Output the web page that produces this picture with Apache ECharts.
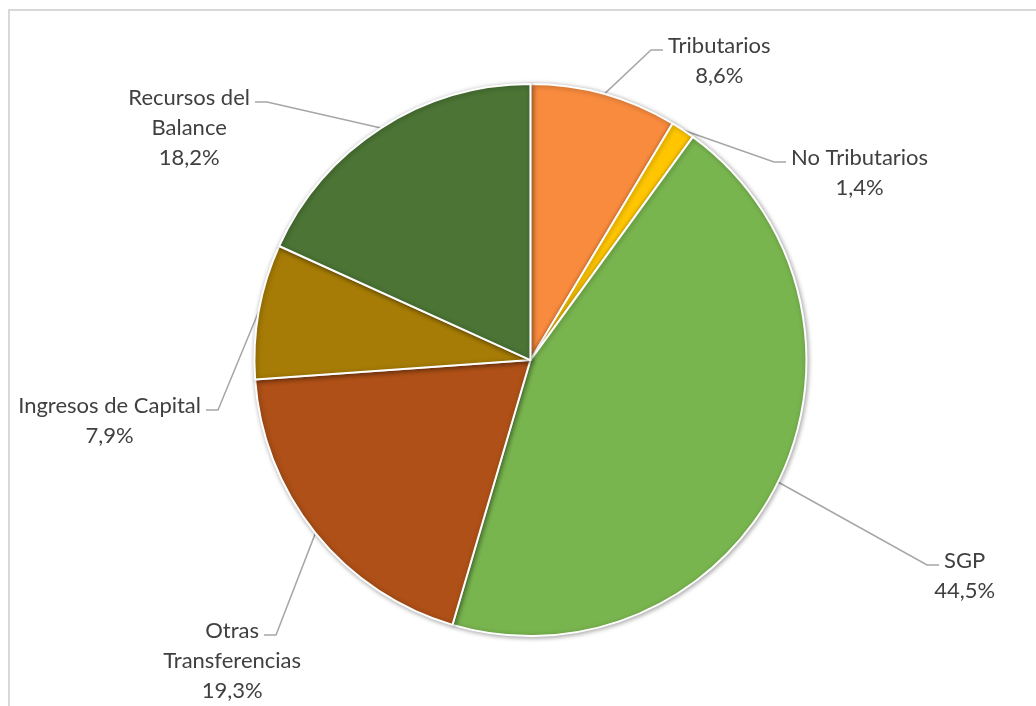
<!DOCTYPE html>
<html>
<head>
<meta charset="utf-8">
<script src="https://cdn.jsdelivr.net/npm/echarts@6/dist/echarts.min.js"></script>
<style>
html, body { margin: 0; padding: 0; background: #fff; }
#frame { position: absolute; left: 8px; top: 9px; width: 1100px; height: 800px; border: 2px solid #d9d9d9; box-sizing: border-box; }
#main { position: absolute; left: 0; top: 0; width: 1036px; height: 706px; }
</style>
</head>
<body>
<div id="frame"></div>
<div id="main"></div>
<script>
var categories = ['Tributarios', 'No Tributarios', 'SGP', 'Otras Transferencias', 'Ingresos de Capital', 'Recursos del Balance'];
var labelNames = ['Tributarios', 'No Tributarios', 'SGP', 'Otras\nTransferencias', 'Ingresos de Capital', 'Recursos del\nBalance'];
var values = [8.6, 1.4, 44.5, 19.3, 7.9, 18.2];
var colors = ['#f88b3e', '#ffc600', '#79b54f', '#ae5017', '#a67c06', '#4b7435'];

// label spots: near edge of the first text line, its middle y, side
var labelSpots = [
	[668, 46, 'left'],
	[791, 158, 'left'],
	[944, 561, 'left'],
	[259, 631, 'right'],
	[201, 406, 'right'],
	[250, 98, 'right']
];

var FONT = 'Lato';
var FONT_SIZE = 22;
var LINE_H = 30;

var ctx = document.createElement('canvas').getContext('2d');
ctx.font = FONT_SIZE + 'px ' + FONT;
function textWidth(t) {
	return ctx.measureText(t).width;
}

var pieData = [];
for (var i = 0; i < categories.length; i++) {
	pieData.push({ name: categories[i], value: values[i], itemStyle: { color: colors[i] } });
}

var myChart = echarts.init(document.getElementById('main'));
option = {
	animation : false,
	series : [ {
		type : 'pie',
		center : [ '51.2%', '51%' ],
		radius : 276,
		startAngle : 90,
		clockwise : true,
		avoidLabelOverlap : false,
		itemStyle : {
			borderColor : '#ffffff',
			borderWidth : 2,
			shadowBlur : 5,
			shadowColor : 'rgba(0,0,0,0.35)',
			shadowOffsetX : 1,
			shadowOffsetY : 1
		},
		label : {
			show : true,
			position : 'outside',
			fontFamily : FONT,
			fontSize : FONT_SIZE,
			lineHeight : LINE_H,
			color : '#404040',
			formatter : function(p) {
				return labelNames[p.dataIndex] + '\n' + p.value.toFixed(1).replace('.', ',') + '%';
			}
		},
		labelLine : {
			show : true,
			length : 20,
			length2 : 12,
			lineStyle : {
				color : '#a6a6a6',
				width : 1.5
			}
		},
		labelLayout : function(p) {
			var s = labelSpots[p.dataIndex];
			var first = p.text.split('\n')[0];
			var w1 = textWidth(first);
			var dir = s[2] === 'left' ? 1 : -1;
			var lineY = s[1] + 4;
			var end = s[0] - dir * 5;
			var elbow = end - dir * 12;
			var res = {
				x : s[0] + dir * w1 / 2,
				y : s[1] - LINE_H / 2,
				align : 'center',
				verticalAlign : 'top'
			};
			if (p.labelLinePoints) {
				res.labelLinePoints = [ p.labelLinePoints[0], [ elbow, lineY ], [ end, lineY ] ];
			}
			return res;
		},
		data : pieData
	} ]
};
myChart.setOption(option);
</script>
</body>
</html>
